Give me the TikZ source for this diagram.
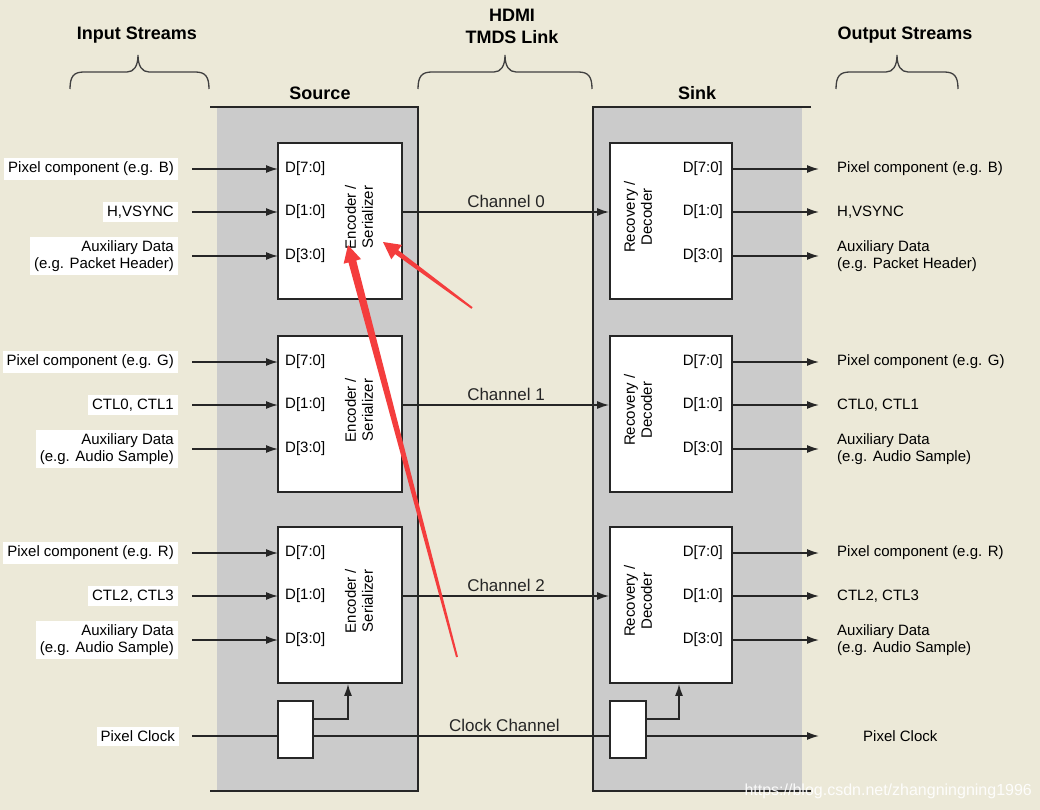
\documentclass[tikz,border=0pt]{standalone}
\usepackage{fontspec}
\setmainfont{Liberation Sans}
\usetikzlibrary{arrows.meta,calc}
\definecolor{paper}{HTML}{ECE9D8}
\definecolor{panelgray}{HTML}{CBCBCB}
\definecolor{markred}{HTML}{F43D3D}
\newcommand{\redpointer}[3]{%
	\coordinate (rpbase) at ($(#2)!17pt!(#1)$);
	\fill[markred] ($(#1)!1pt!90:(#2)$) -- ($(rpbase)!#3!90:(#2)$) -- ($(rpbase)!9pt!90:(#2)$) -- (#2)
		-- ($(rpbase)!9pt!-90:(#2)$) -- ($(rpbase)!#3!-90:(#2)$) -- ($(#1)!1pt!-90:(#2)$) -- cycle;}

\begin{document}
\begin{tikzpicture}[x=1pt,y=-1pt,font=\fontsize{15}{17}\selectfont]
	\tikzstyle{heading}=[font=\fontsize{18}{22}\selectfont\bfseries,align=center]
	\tikzstyle{panelline}=[line width=1.8pt,black!85]
	\tikzstyle{chip}=[draw=black!85,line width=1.8pt,fill=white,minimum width=124pt,minimum height=156pt,inner sep=0]
	\tikzstyle{srcport}=[anchor=west,inner xsep=7pt,inner ysep=0]
	\tikzstyle{sinkport}=[anchor=east,inner xsep=9pt,inner ysep=0]
	\tikzstyle{inlabel}=[anchor=east,fill=white,align=right,inner xsep=4pt,inner ysep=4pt]
	\tikzstyle{outlabel}=[anchor=west,align=left,inner sep=0]
	\tikzstyle{wire}=[line width=1.5pt,black!85]
	\tikzstyle{feed}=[wire,-{Latex[length=12pt,width=8pt]}]
	\tikzstyle{bracket}=[line width=1.3pt,black!75]

	\fill[paper] (0,0) rectangle (1040,810);
	\useasboundingbox (0,0) rectangle (1040,810);

	\fill[panelgray] (217,107) rectangle (418,791);
	\fill[panelgray] (593,107) rectangle (802,791);
	\draw[panelline] (210,107) -- (418,107) -- (418,791) -- (210,791);
	\draw[panelline] (811,107) -- (593,107) -- (593,791) -- (811,791);

	\node[heading] (instreams) at (137,35.5) {Input Streams};
	\node[heading] (link) at (512,26.5) {HDMI\\TMDS Link};
	\node[heading] (outstreams) at (905,35.5) {Output Streams};
	\node[heading] (source) at (320,93) {Source};
	\node[heading] (sink) at (697,93) {Sink};
	\foreach \bl/\bm/\br in {70/138/209, 418/505/592, 836/897/958}
		\draw[bracket] (\bl,89) .. controls (\bl,76) and (\bl+4,72) .. (\bl+14,72) -- (\bm-11,72)
			.. controls (\bm-4,72) and (\bm,66) .. (\bm,55) .. controls (\bm,66) and (\bm+4,72) .. (\bm+11,72)
			-- (\br-14,72) .. controls (\br-4,72) and (\br,76) .. (\br,89);

	\foreach \chan/\ytop/\pixin/\ctlin/\auxin in {0/143/B/{H,VSYNC}/{Packet Header}, 1/336/G/{CTL0, CTL1}/{Audio Sample}, 2/527/R/{CTL2, CTL3}/{Audio Sample}}{
		\node[chip] (enc\chan) at (340,\ytop+78) {};
		\node[chip,minimum width=122pt] (dec\chan) at (671,\ytop+78) {};
		\node[rotate=90,align=center] (enclbl\chan) at (359,\ytop+74) {Encoder /\\Serializer};
		\node[rotate=90,align=center] (declbl\chan) at (638,\ytop+74) {Recovery /\\Decoder};

		\node[srcport] (sd7\chan) at (278,\ytop+26) {D[7:0]};
		\node[srcport] (sd1\chan) at (278,\ytop+69) {D[1:0]};
		\node[srcport] (sd3\chan) at (278,\ytop+113) {D[3:0]};
		\node[sinkport] (kd7\chan) at (732,\ytop+26) {D[7:0]};
		\node[sinkport] (kd1\chan) at (732,\ytop+69) {D[1:0]};
		\node[sinkport] (kd3\chan) at (732,\ytop+113) {D[3:0]};

		\node[inlabel] (pix\chan) at (178,\ytop+26) {Pixel component (e.g. \pixin)};
		\node[inlabel] (ctl\chan) at (178,\ytop+69) {\ctlin};
		\node[inlabel] (aux\chan) at (178,\ytop+113) {Auxiliary Data\\(e.g. \auxin)};
		\node[outlabel] (opix\chan) at (837,\ytop+26) {Pixel component (e.g. \pixin)};
		\node[outlabel] (octl\chan) at (837,\ytop+69) {\ctlin};
		\node[outlabel] (oaux\chan) at (837,\ytop+113) {Auxiliary Data\\(e.g. \auxin)};

		\draw[feed,shorten <=14pt] (pix\chan.east) -- (sd7\chan.west);
		\draw[feed,shorten <=14pt] (ctl\chan.east) -- (sd1\chan.west);
		\draw[feed,shorten <=14pt] (aux\chan.east) -- (sd3\chan.west);
		\draw[feed,shorten >=18pt] (kd7\chan.east) -- (opix\chan.west);
		\draw[feed,shorten >=18pt] (kd1\chan.east) -- (octl\chan.west);
		\draw[feed,shorten >=18pt] (kd3\chan.east) -- (oaux\chan.west);
		\draw[feed] (sd1\chan -| enc\chan.east) -- (kd1\chan -| dec\chan.west)
			node[midway,above,font=\fontsize{17}{19}\selectfont] {Channel \chan};
	}

	\node[chip,minimum width=35pt,minimum height=57pt] (sclk) at (295.5,729.5) {};
	\node[chip,minimum width=36pt,minimum height=57pt] (kclk) at (628,729.5) {};
	\node[inlabel] (clkin) at (179,736) {Pixel Clock};
	\node[outlabel] (clkout) at (863,736) {Pixel Clock};
	\draw[wire,shorten <=13pt] (clkin.east) -- (sclk.west |- clkin.east);
	\draw[wire] (sclk.east |- clkin.east) -- (kclk.west |- clkin.east)
		node[pos=.645,above,font=\fontsize{17}{19}\selectfont] {Clock Channel};
	\draw[feed,shorten >=44pt] (kclk.east |- clkin.east) -- (clkout.west);
	\draw[feed] ($(sclk.east)+(0,-10.5)$) -| ($(enc2.south)+(8,0)$);
	\draw[feed] ($(kclk.east)+(0,-10.5)$) -| ($(dec2.south)+(8,0)$);

	\coordinate (tailA) at (457,657);
	\coordinate (tipA) at (348,245);
	\coordinate (tailB) at (472,308);
	\coordinate (tipB) at (383,242);
	\redpointer{tailA}{tipA}{4pt}
	\redpointer{tailB}{tipB}{2.5pt}

	\node[anchor=west,text=white,text opacity=.9,font=\fontsize{16}{18}\selectfont] (mark) at (741,791) {https://blog.csdn.net/zhangningning1996};
\end{tikzpicture}
\end{document}
